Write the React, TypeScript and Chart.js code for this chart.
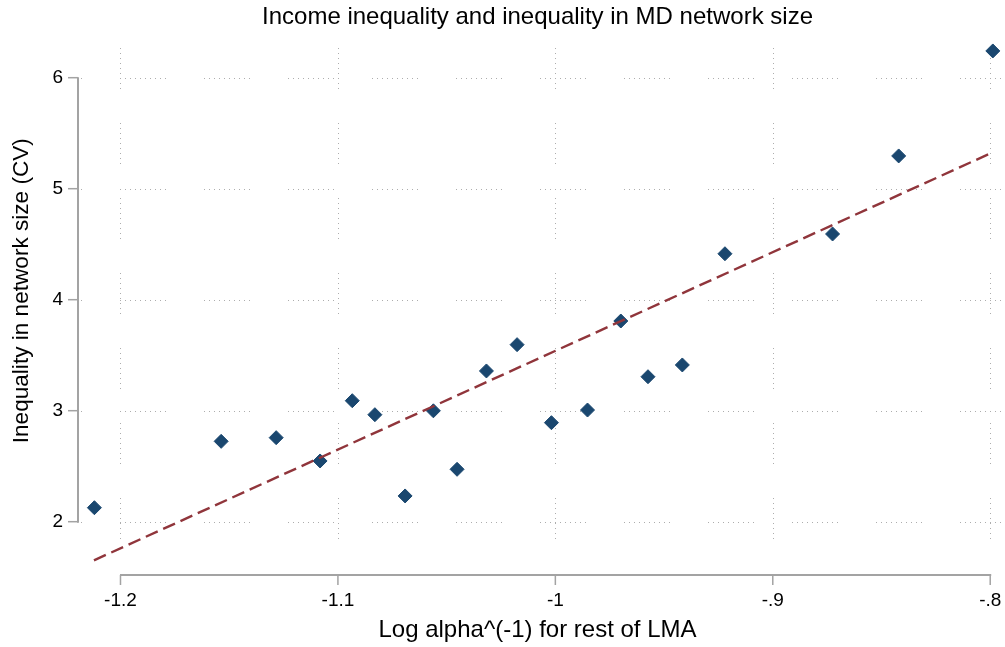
import React, { useEffect, useRef } from "react";
import { Chart, registerables } from "chart.js";

Chart.register(...registerables);

// ---- data ----
const logAlphaInv = [
  -1.212, -1.1537, -1.1284, -1.1082, -1.0934, -1.083, -1.0691, -1.0561, -1.0452, -1.0317,
  -1.0176, -1.0018, -0.9852, -0.9699, -0.9574, -0.9416, -0.922, -0.8421, -0.8725, -0.7988,
];
const networkCV = [
  2.126, 2.724, 2.757, 2.547, 3.09, 2.964, 2.232, 2.999, 2.472, 3.358,
  3.595, 2.892, 3.006, 3.808, 3.306, 3.412, 4.414, 5.295, 4.592, 6.241,
];
const fitX = [-1.2122, -0.7988];
const fitY = [1.652, 5.328];

const xTicks = [-1.2, -1.1, -1, -0.9, -0.8];
const xTickLabels = ["-1.2", "-1.1", "-1", "-.9", "-.8"];
const yTicks = [2, 3, 4, 5, 6];
const yTickLabels = ["2", "3", "4", "5", "6"];

const TITLE = "Income inequality and inequality in MD network size";
const X_TITLE = "Log alpha^(-1) for rest of LMA";
const Y_TITLE = "Inequality in network size (CV)";

const FONT = "'Liberation Sans', Arial, Helvetica, sans-serif";
const NAVY = "#1a476f";
const CRANBERRY = "#90353b";
const AXIS = "#a3a3a3";
const GRID = "#adadad";

function repeatDots(n: number, last: number): number[] {
  const arr: number[] = [];
  for (let i = 0; i < n; i++) arr.push(1, 4);
  arr.push(1, last);
  return arr;
}

const stataAxes = {
  id: "stataAxes",
  beforeDatasetsDraw(chart: any) {
    const { ctx, chartArea: a, scales } = chart;
    const x = scales.x;
    const y = scales.y;
    ctx.save();
    // dotted, broken grid lines
    ctx.strokeStyle = GRID;
    ctx.lineWidth = 1;
    ctx.setLineDash(repeatDots(9, 38));
    ctx.lineDashOffset = 44;
    for (const v of yTicks) {
      const py = Math.round(y.getPixelForValue(v)) + 0.5;
      ctx.beginPath();
      ctx.moveTo(a.left + 2, py);
      ctx.lineTo(a.right + 5, py);
      ctx.stroke();
    }
    ctx.setLineDash(repeatDots(8, 34));
    ctx.lineDashOffset = 67;
    for (const v of xTicks) {
      const px = Math.round(x.getPixelForValue(v)) + 0.5;
      ctx.beginPath();
      ctx.moveTo(px, a.top);
      ctx.lineTo(px, a.bottom - 2);
      ctx.stroke();
    }
    ctx.setLineDash([]);
    // axis lines spanning first to last tick
    ctx.strokeStyle = AXIS;
    ctx.lineWidth = 2;
    const y0 = y.getPixelForValue(yTicks[0]);
    const y1 = y.getPixelForValue(yTicks[yTicks.length - 1]);
    ctx.beginPath();
    ctx.moveTo(a.left, y0 + 1);
    ctx.lineTo(a.left, y1 - 0.5);
    ctx.stroke();
    const x0 = x.getPixelForValue(xTicks[0]);
    const x1 = x.getPixelForValue(xTicks[xTicks.length - 1]);
    ctx.beginPath();
    ctx.moveTo(x0 - 0.5, a.bottom);
    ctx.lineTo(x1 + 1, a.bottom);
    ctx.stroke();
    // tick marks
    ctx.lineWidth = 1.5;
    for (const v of yTicks) {
      const py = y.getPixelForValue(v);
      ctx.beginPath();
      ctx.moveTo(a.left - 10, py);
      ctx.lineTo(a.left, py);
      ctx.stroke();
    }
    for (const v of xTicks) {
      const px = x.getPixelForValue(v);
      ctx.beginPath();
      ctx.moveTo(px, a.bottom);
      ctx.lineTo(px, a.bottom + 10);
      ctx.stroke();
    }
    ctx.restore();
  },
  afterDraw(chart: any) {
    // y-axis title, placed like Stata (slightly above the axis midpoint)
    const { ctx, scales } = chart;
    const y = scales.y;
    const cy = (y.getPixelForValue(yTicks[0]) + y.getPixelForValue(yTicks[yTicks.length - 1])) / 2 - 9;
    ctx.save();
    ctx.translate(21.5, cy);
    ctx.rotate(-Math.PI / 2);
    ctx.font = `22.6px ${FONT}`;
    ctx.fillStyle = "#000";
    ctx.textAlign = "center";
    ctx.textBaseline = "middle";
    ctx.fillText(Y_TITLE, 0, 0);
    ctx.restore();
  },
};

export default function App() {
  const ref = useRef<HTMLCanvasElement | null>(null);

  useEffect(() => {
    if (!ref.current) return;
    const points = logAlphaInv.map((v, i) => ({ x: v, y: networkCV[i] }));
    const fit = fitX.map((v, i) => ({ x: v, y: fitY[i] }));
    const chart = new Chart(ref.current, {
      type: "scatter",
      data: {
        datasets: [
          {
            label: "CV",
            data: points,
            order: 1,
            clip: false,
            pointStyle: "rectRot",
            pointRadius: 7,
            pointBorderWidth: 1,
            backgroundColor: NAVY,
            borderColor: NAVY,
          } as any,
          {
            type: "line",
            label: "Fitted values",
            data: fit,
            order: 0,
            clip: false,
            showLine: true,
            pointRadius: 0,
            borderColor: CRANBERRY,
            borderWidth: 2.4,
            borderDash: [13, 6],
            fill: false,
          } as any,
        ],
      },
      options: {
        responsive: false,
        animation: false,
        devicePixelRatio: 1,
        layout: { padding: { left: 0, right: 0, top: 0, bottom: 0 } },
        plugins: {
          legend: { display: false },
          tooltip: { enabled: false },
          title: {
            display: true,
            text: TITLE,
            fullSize: false,
            color: "#000",
            font: { family: FONT, size: 24, weight: "normal" },
            padding: { top: 3.3, bottom: 7.9 },
          },
        },
        scales: {
          x: {
            type: "linear",
            min: -1.21954,
            max: -0.79688,
            grid: { display: false, drawTicks: false },
            border: { display: false },
            afterBuildTicks: (s: any) => {
              s.ticks = xTicks.map((v) => ({ value: v }));
            },
            afterFit: (s: any) => {
              s.height = 72;
              s.paddingLeft = 0;
              s.paddingRight = 0;
            },
            ticks: {
              padding: 14,
              color: "#000",
              maxRotation: 0,
              autoSkip: false,
              font: { family: FONT, size: 19 },
              callback: (_v: any, i: number) => xTickLabels[i],
            },
            title: {
              display: true,
              text: X_TITLE,
              color: "#000",
              font: { family: FONT, size: 24 },
              padding: { top: 0, bottom: 2.3 },
            },
          },
          y: {
            type: "linear",
            min: 1.5198,
            max: 6.3396,
            grid: { display: false, drawTicks: false },
            border: { display: false },
            afterBuildTicks: (s: any) => {
              s.ticks = yTicks.map((v) => ({ value: v }));
            },
            afterFit: (s: any) => {
              s.width = 78;
              s.paddingTop = 0;
              s.paddingBottom = 0;
            },
            ticks: {
              padding: 15,
              color: "#000",
              autoSkip: false,
              font: { family: FONT, size: 19 },
              callback: (_v: any, i: number) => yTickLabels[i],
            },
            title: { display: false },
          },
        },
      } as any,
      plugins: [stataAxes],
    });
    return () => chart.destroy();
  }, []);

  return (
    <div style={{ position: "absolute", left: 0, top: 0, width: 1005, height: 647, background: "#fff" }}>
      <canvas ref={ref} width={1005} height={647} style={{ display: "block" }} />
    </div>
  );
}
